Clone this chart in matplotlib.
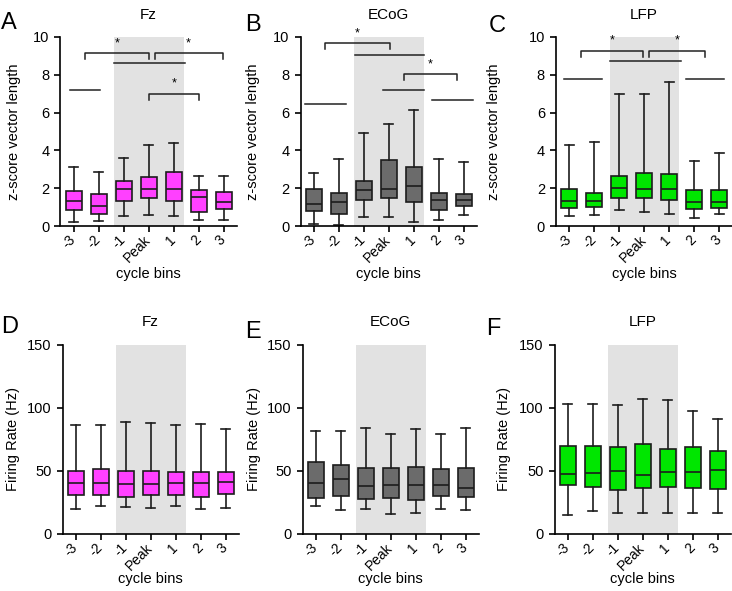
import matplotlib
matplotlib.use('Agg')
import matplotlib.pyplot as plt

plt.rcParams['font.family'] = ['Liberation Sans', 'DejaVu Sans']

# cycle bins on the x axis
bins = ['-3', '-2', '-1', 'Peak', '1', '2', '3']

# box stats per bin: (whisker low, Q1, median, Q3, whisker high)
fz_z = [(0.23, 0.85, 1.31, 1.87, 3.13), (0.28, 0.62, 1.08, 1.70, 2.84),
        (0.55, 1.31, 1.98, 2.40, 3.62), (0.60, 1.47, 1.98, 2.60, 4.29),
        (0.53, 1.31, 1.98, 2.86, 4.40), (0.34, 0.76, 1.52, 1.91, 2.67),
        (0.32, 0.90, 1.27, 1.78, 2.65)]
ecog_z = [(0.12, 0.80, 1.18, 1.96, 2.83), (0.07, 0.62, 1.25, 1.77, 3.57),
          (0.48, 1.40, 1.91, 2.40, 4.91), (0.48, 1.50, 1.94, 3.50, 5.41),
          (0.23, 1.29, 2.10, 3.13, 6.13), (0.34, 0.83, 1.36, 1.73, 3.57),
          (0.58, 1.04, 1.38, 1.70, 3.41)]
lfp_z = [(0.52, 0.95, 1.31, 1.94, 4.28), (0.59, 0.99, 1.31, 1.74, 4.44),
         (0.86, 1.46, 2.03, 2.64, 7.01), (0.72, 1.46, 1.98, 2.82, 7.01),
         (0.63, 1.37, 1.98, 2.75, 7.64), (0.43, 0.88, 1.29, 1.89, 3.45),
         (0.61, 0.97, 1.29, 1.92, 3.87)]
fz_rate = [(19.3, 30.7, 40.2, 50.0, 86.2), (21.7, 30.2, 39.9, 50.8, 86.2),
           (21.2, 28.8, 39.2, 49.7, 88.1), (20.4, 30.2, 39.2, 49.7, 87.8),
           (21.7, 30.4, 39.7, 48.7, 86.2), (19.3, 28.6, 39.9, 49.2, 87.0),
           (20.4, 31.5, 40.7, 49.2, 83.3)]
ecog_rate = [(21.7, 28.0, 40.2, 57.1, 81.7), (18.3, 29.4, 43.4, 54.0, 81.2),
             (19.3, 27.5, 37.8, 52.1, 83.6), (15.1, 28.0, 38.1, 51.9, 78.8),
             (16.4, 26.7, 38.1, 52.6, 83.1), (19.3, 29.4, 38.6, 50.8, 79.1),
             (18.3, 28.6, 36.2, 51.9, 83.6)]
lfp_rate = [(14.3, 38.1, 47.4, 69.3, 102.9), (17.5, 37.0, 48.4, 69.6, 102.6),
            (15.9, 34.7, 49.5, 68.3, 101.9), (15.9, 36.2, 46.8, 71.4, 106.9),
            (16.4, 37.0, 48.9, 66.7, 106.3), (15.9, 36.0, 49.2, 69.0, 97.1),
            (16.4, 35.4, 50.3, 65.6, 91.0)]

# significance marks: plain lines (x0, x1, y), brackets (x0, x1, y)
fz_lines = [(-0.16, 1.07, 7.21), (1.61, 4.47, 8.60)]
fz_brackets = [(0.47, 3.0, 9.15), (3.24, 5.96, 9.15), (3.0, 5.03, 7.01)]
ecog_lines = [(-0.33, 1.31, 6.48), (1.67, 4.43, 9.03), (2.77, 4.43, 7.21), (4.73, 6.37, 6.68)]
ecog_brackets = [(0.45, 3.04, 9.68), (3.61, 5.75, 8.04)]
lfp_lines = [(-0.19, 1.30, 7.77), (1.64, 4.47, 8.74), (4.69, 6.18, 7.77)]
lfp_brackets = [(0.47, 2.97, 9.28), (3.19, 5.45, 9.28)]

shade = (1.63, 4.4)
colors = {'Fz': '#ff40ff', 'ECoG': '#6b6b6b', 'LFP': '#00e600'}

fig = plt.figure(figsize=(7.32, 5.91), dpi=100)
W, H = 732, 591


def add_ax(left, y0, height=189, width=176):
    return fig.add_axes([left / W, 1 - y0 / H, width / W, height / H])


def draw_panel(ax, stats, name, ymax, yticks, ylabel, label_x, xlabel_y,
               lines=(), brackets=()):
    ax.axvspan(shade[0], shade[1], color='#e2e2e2', lw=0, zorder=0)
    boxes = [dict(whislo=s[0], q1=s[1], med=s[2], q3=s[3], whishi=s[4]) for s in stats]
    ec = '#1c1c1c'
    ax.bxp(boxes, positions=range(len(bins)), widths=0.64, patch_artist=True,
           showfliers=False, capwidths=0.36,
           boxprops=dict(facecolor=colors[name], edgecolor=ec, linewidth=1.2),
           medianprops=dict(color=ec, linewidth=1.2),
           whiskerprops=dict(color=ec, linewidth=1.2),
           capprops=dict(color=ec, linewidth=1.2))
    leg = ymax * 0.033
    for x0, x1, y in lines:
        ax.plot([x0, x1], [y, y], color='#222222', lw=1.1, clip_on=False)
    for x0, x1, y in brackets:
        ax.plot([x0, x0, x1, x1], [y - leg, y, y, y - leg], color='#222222', lw=1.1,
                clip_on=False)
        ax.text((x0 + x1) / 2, y + ymax * 0.02, '*', ha='center', va='bottom', fontsize=9)
    ax.set_xlim(-0.52, 6.52)
    ax.set_ylim(0, ymax)
    ax.set_yticks(yticks)
    ax.set_xticks(range(len(bins)))
    ax.set_xticklabels(bins, rotation=45, ha='right', va='center', rotation_mode='anchor')
    ax.tick_params(labelsize=10.5, width=1.2, length=4.5, direction='out')
    ax.tick_params(axis='x', labelsize=10, pad=4)
    for s in ('top', 'right'):
        ax.spines[s].set_visible(False)
    for s in ('left', 'bottom'):
        ax.spines[s].set_linewidth(1.2)
    ax.set_title(name, fontsize=11, pad=13)
    ax.set_xlabel('cycle bins', fontsize=10.5)
    ax.xaxis.set_label_coords(0.5, xlabel_y)
    ax.set_ylabel(ylabel, fontsize=10.5)
    ax.yaxis.set_label_coords(label_x, 0.5)


z_ticks = [0, 2, 4, 6, 8, 10]
r_ticks = [0, 50, 100, 150]

axA = add_ax(60.5, 226)
draw_panel(axA, fz_z, 'Fz', 10, z_ticks, 'z-score vector length', -0.225, -0.218,
           fz_lines, fz_brackets)
axB = add_ax(300.5, 226)
draw_panel(axB, ecog_z, 'ECoG', 10, z_ticks, 'z-score vector length', -0.23, -0.218,
           ecog_lines, ecog_brackets)
axC = add_ax(556, 226)
draw_panel(axC, lfp_z, 'LFP', 10, z_ticks, 'z-score vector length', -0.31, -0.218,
           lfp_lines, lfp_brackets)
axD = add_ax(62.5, 533.5)
draw_panel(axD, fz_rate, 'Fz', 150, r_ticks, 'Firing Rate (Hz)', -0.244, -0.205)
axE = add_ax(302.5, 533.5)
draw_panel(axE, ecog_rate, 'ECoG', 150, r_ticks, 'Firing Rate (Hz)', -0.236, -0.205)
axF = add_ax(554.5, 533.5)
draw_panel(axF, lfp_rate, 'LFP', 150, r_ticks, 'Firing Rate (Hz)', -0.247, -0.205)

for letter, x, y in [('A', 1, 29), ('B', 245, 31), ('C', 489, 32),
                     ('D', 1, 333), ('E', 245, 338), ('F', 486, 335)]:
    fig.text(x / W, 1 - y / H, letter, fontsize=17, ha='left', va='baseline')

fig.savefig('out.png', dpi=100)
